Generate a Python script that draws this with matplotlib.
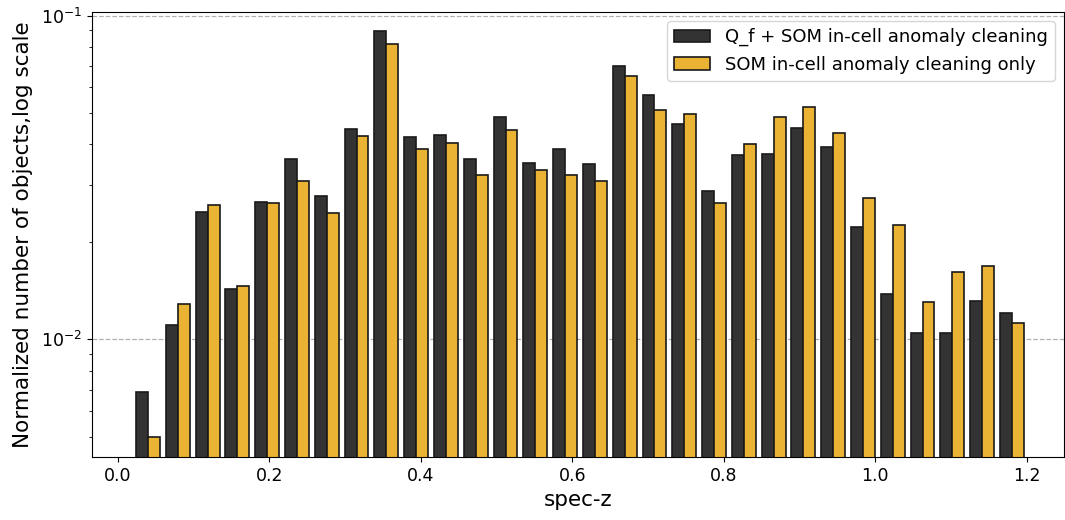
import numpy as np
import matplotlib
matplotlib.use("Agg")
import matplotlib.pyplot as plt

# Redshift binning
bin_lo, bin_hi, n_bins = 0.02, 1.2, 30

# Normalized counts per bin
qf_som = [0.00688, 0.01109, 0.02483, 0.01427, 0.02666, 0.03610, 0.02768, 0.04467,
          0.08930, 0.04220, 0.04281, 0.03596, 0.04864, 0.03508, 0.03877, 0.03492,
          0.06975, 0.05688, 0.04618, 0.02875, 0.03698, 0.03732, 0.04488, 0.03915,
          0.02222, 0.01377, 0.01043, 0.01043, 0.01313, 0.01208]
som_only = [0.00500, 0.01288, 0.02592, 0.01460, 0.02641, 0.03095, 0.02460, 0.04262,
            0.08155, 0.03877, 0.04045, 0.03222, 0.04446, 0.03331, 0.03222, 0.03095,
            0.06528, 0.05101, 0.04959, 0.02641, 0.04026, 0.04864, 0.05212, 0.04324,
            0.02729, 0.02258, 0.01306, 0.01617, 0.01687, 0.01125]

labels = ["Q_f + SOM in-cell anomaly cleaning", "SOM in-cell anomaly cleaning only"]
colors = ["#333333", "#EAB334"]

edges = np.linspace(bin_lo, bin_hi, n_bins + 1)
width = edges[1] - edges[0]
rwidth = 0.8
bar_w = width * rwidth / 2
left0 = edges[:-1] + width * (1 - rwidth) / 2

fig = plt.figure(figsize=(10.65, 5.2), dpi=100)
ax = fig.add_axes([0.0864, 0.1212, 0.9126, 0.8558])

for i, (vals, lab, col) in enumerate(zip([qf_som, som_only], labels, colors)):
    ax.bar(left0 + i * bar_w, vals, width=bar_w, align="edge", color=col,
           edgecolor="#1a1a1a", linewidth=1.2, label=lab)

ax.set_yscale("log")
ax.set_ylim(0.004335, 0.1026)
ax.set_xlim(-0.0343, 1.249)
ax.set_xticks(np.arange(0, 1.21, 0.2))
ax.yaxis.grid(True, which="major", linestyle="--", color="#b0b0b0", linewidth=0.9)
ax.set_axisbelow(True)

ax.tick_params(axis="both", which="major", labelsize=12.5)
ax.set_xlabel("spec-z", fontsize=15.5)
ax.set_ylabel("Normalized number of objects,log scale", fontsize=15.5, labelpad=6)

ax.legend(loc="upper right", fontsize=13, frameon=True, handlelength=2.0,
          borderaxespad=0.5)

fig.savefig("out.png", dpi=100)
